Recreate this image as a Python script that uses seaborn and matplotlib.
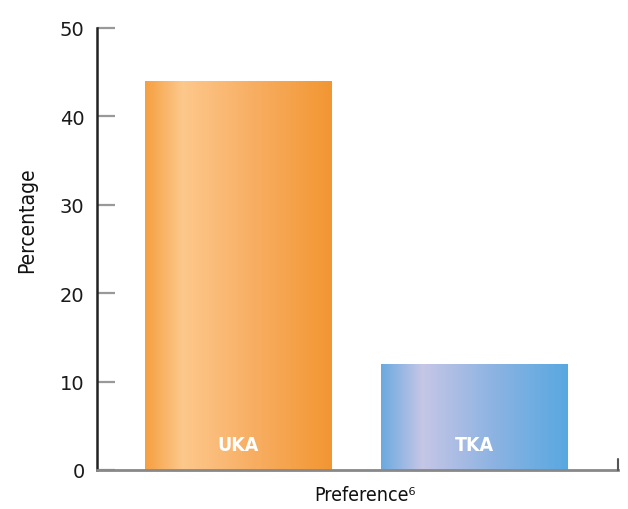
import numpy as np
import pandas as pd
import matplotlib
matplotlib.use("Agg")
import matplotlib.pyplot as plt
import seaborn as sns

# === data ===
categories = ["UKA", "TKA"]
percentages = [44, 12]
y_ticks = [0, 10, 20, 30, 40, 50]

df = pd.DataFrame({"Preference": categories, "Percentage": percentages})

sns.set_theme(style="white")
plt.rcParams["font.family"] = ["DejaVu Sans"]
plt.rcParams["font.stretch"] = "condensed"

fig = plt.figure(figsize=(6.28, 5.10), dpi=100)
ax = fig.add_axes([97 / 628, 39 / 510, 521 / 628, 442 / 510])

sns.barplot(data=df, x="Preference", y="Percentage", width=0.79,
            palette=["#F39A36", "#5AA5DC"], hue="Preference", legend=False,
            ax=ax, saturation=1)

# horizontal gradients for each bar (light band left of centre)
gradients = [
    ([0.0, 0.2, 0.55, 1.0], ["#F5A040", "#FDC88C", "#F8B066", "#F29632"]),
    ([0.0, 0.22, 0.6, 1.0], ["#6AAAE0", "#C6C6E6", "#8DB3E2", "#58A8E0"]),
]
for patch, (pos, cols) in zip(ax.patches, gradients):
    x0, y0 = patch.get_x(), patch.get_y()
    w, h = patch.get_width(), patch.get_height()
    rgb = np.array([matplotlib.colors.to_rgb(c) for c in cols])
    xs = np.linspace(0, 1, 256)
    img = np.stack([np.interp(xs, pos, rgb[:, k]) for k in range(3)], axis=-1)[None, :, :]
    im = ax.imshow(img, extent=[x0, x0 + w, y0, y0 + h], aspect="auto",
                   interpolation="bicubic", zorder=patch.get_zorder() + 0.1)
    im.set_clip_path(patch)

# labels inside bars
for i, cat in enumerate(categories):
    ax.text(i, 2.9, cat, ha="center", va="center", color="white",
            fontsize=14, fontweight="bold", zorder=5)

ax.set_xlim(-0.60, 1.61)
ax.set_ylim(0, 50)
ax.set_yticks(y_ticks)
ax.set_yticklabels([str(t) for t in y_ticks], fontsize=14, color="#1a1a1a",
                   fontstretch="normal")
ax.set_xticks([])

ax.tick_params(axis="y", left=True, direction="in", length=13, width=1.6,
               color="#999999", pad=9)
ax.yaxis.get_major_ticks()[-1].tick1line.set_color("#333333")

for s in ["top", "right"]:
    ax.spines[s].set_visible(False)
ax.spines["left"].set_color("#222222")
ax.spines["left"].set_linewidth(1.8)
ax.spines["bottom"].set_color("#888888")
ax.spines["bottom"].set_linewidth(2)
# small end tick on the x axis
ax.plot([1.61, 1.61], [0, 1.3], color="#555555", lw=1.5, clip_on=False, zorder=6)

ax.set_xlabel("Preference\u2076", fontsize=14, color="#111111")
ax.xaxis.set_label_coords((365 - 97) / 521, -15 / 442)
ax.set_ylabel("Percentage", fontsize=15, color="#111111")
ax.yaxis.set_label_coords(-60 / 521, (471 - 220) / 442)

fig.savefig("out.png", dpi=100)
